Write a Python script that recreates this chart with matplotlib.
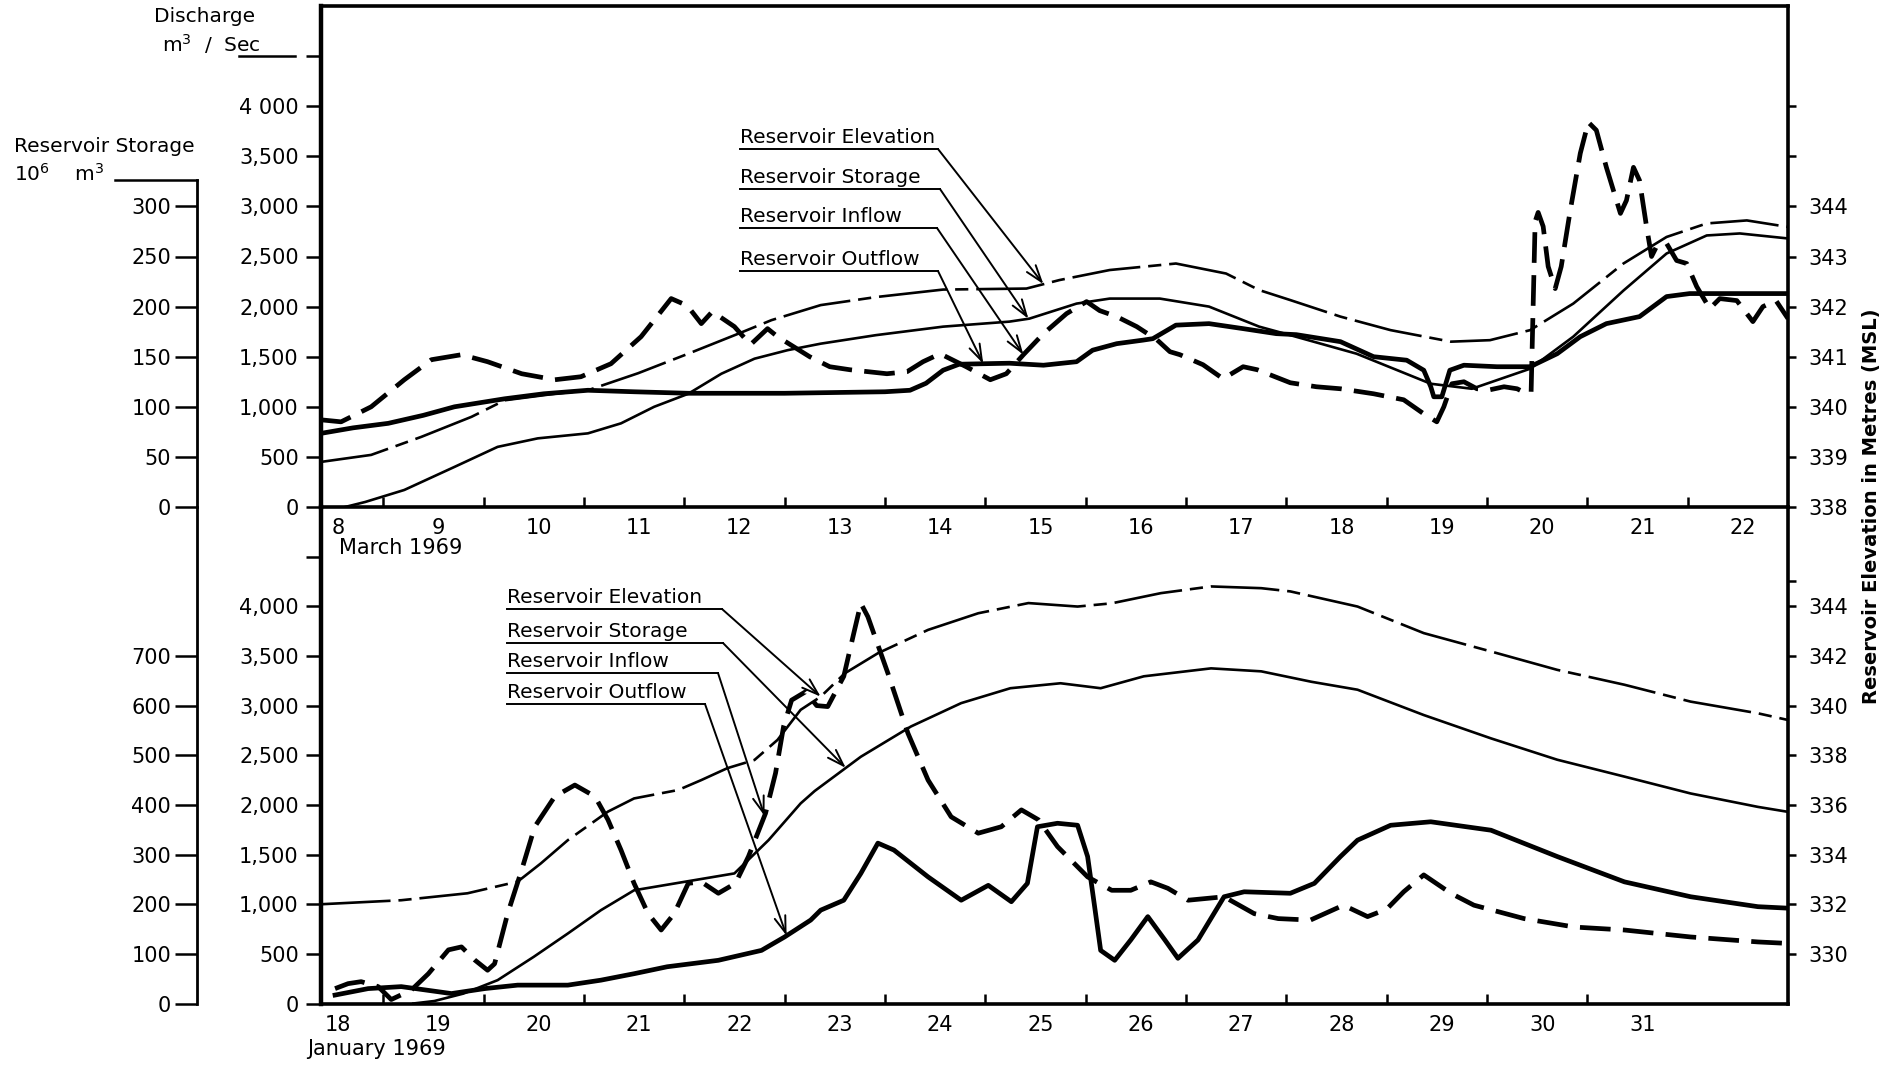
import numpy as np
import matplotlib.pyplot as plt
from matplotlib.lines import Line2D
from matplotlib.transforms import blended_transform_factory

plt.rcParams['font.family'] = ['DejaVu Sans']

W, H = 1900, 1066  # figure size in pixels

# ---------------- March 1969 (upper panel) ----------------
mar_in_day = [8.38, 8.58, 8.88, 9.21, 9.48, 9.78, 10.04, 10.38, 10.71, 10.97,
              11.27, 11.57, 11.87, 12.03, 12.17, 12.28, 12.50, 12.66, 12.83, 12.93,
              13.25, 13.45, 13.65, 14.02, 14.22, 14.38, 14.55, 14.81, 15.05, 15.21,
              15.38, 15.58, 15.81, 16.01, 16.14, 16.31, 16.51, 16.71, 16.84, 16.94,
              17.17, 17.37, 17.57, 17.71, 18.04, 18.30, 18.54, 18.87, 19.17, 19.37,
              19.50, 19.57, 19.65, 19.77, 19.90, 20.03, 20.17, 20.30, 20.40, 20.44,
              20.46, 20.48, 20.51, 20.56, 20.61, 20.68, 20.74, 20.83, 20.93, 21.01,
              21.09, 21.19, 21.33, 21.39, 21.46, 21.52, 21.59, 21.64, 21.69, 21.79,
              21.89, 21.99, 22.09, 22.22, 22.32, 22.49, 22.65, 22.75, 22.88, 23.00]
mar_inflow = [870, 850, 1000, 1270, 1470, 1520, 1450, 1330, 1270, 1300,
              1430, 1700, 2080, 2010, 1830, 1950, 1800, 1620, 1780, 1700,
              1500, 1400, 1370, 1330, 1350, 1450, 1530, 1400, 1270, 1330,
              1520, 1730, 1930, 2050, 1960, 1900, 1800, 1670, 1550, 1520,
              1420, 1280, 1400, 1370, 1240, 1200, 1180, 1130, 1070, 930,
              850, 1000, 1230, 1250, 1180, 1170, 1200, 1180, 1130, 1150,
              2000, 2850, 2940, 2800, 2400, 2180, 2400, 2960, 3530, 3840,
              3760, 3390, 2930, 3060, 3390, 3260, 2800, 2500, 2600, 2630,
              2460, 2430, 2200, 1980, 2080, 2060, 1850, 2000, 2060, 1880]

mar_out_day = [8.38, 8.70, 9.05, 9.40, 9.71, 10.21, 10.60, 11.04, 11.50, 12.04,
               13.00, 14.00, 14.25, 14.41, 14.58, 14.74, 15.24, 15.58, 15.91, 16.07,
               16.31, 16.57, 16.67, 16.90, 17.23, 17.57, 17.90, 18.10, 18.54, 18.87,
               19.20, 19.37, 19.44, 19.47, 19.55, 19.63, 19.77, 20.10, 20.43, 20.70,
               20.93, 21.19, 21.52, 21.79, 22.02, 23.00]
mar_outflow = [735, 790, 835, 915, 1000, 1080, 1130, 1165, 1150, 1135,
               1135, 1150, 1165, 1235, 1365, 1425, 1435, 1415, 1450, 1565,
               1630, 1665, 1680, 1815, 1830, 1780, 1730, 1720, 1650, 1500,
               1465, 1365, 1200, 1100, 1100, 1365, 1415, 1400, 1400, 1530,
               1700, 1830, 1900, 2100, 2130, 2130]

mar_stor_day = [8.62, 8.82, 9.21, 9.71, 10.14, 10.54, 11.04, 11.37, 11.70, 12.04,
                12.37, 12.70, 13.03, 13.36, 13.91, 14.58, 15.24, 15.44, 15.91, 16.24,
                16.74, 17.23, 17.73, 18.04, 18.70, 19.44, 19.85, 20.43, 20.86, 21.36,
                21.79, 22.19, 22.52, 23.00]
mar_storage = [0, 5, 17, 40, 60, 68.5, 73.5, 83.5, 100, 113,
               133, 148, 156.5, 163, 171.5, 180, 185, 188, 203, 208,
               208, 200, 180, 171.5, 153, 123, 118, 138, 170, 216,
               253, 271, 273, 268]

mar_elev_day = [8.38, 8.88, 9.38, 9.88, 10.21, 10.71, 11.04, 11.54, 12.04, 12.54,
                12.87, 13.36, 13.91, 14.58, 15.41, 15.74, 16.24, 16.90, 17.40, 17.73,
                18.04, 18.54, 19.04, 19.64, 20.03, 20.43, 20.86, 21.36, 21.79, 22.19,
                22.59, 23.00]
mar_elev = [338.90, 339.04, 339.40, 339.80, 340.13, 340.26, 340.33, 340.67, 341.06, 341.46,
            341.73, 342.03, 342.19, 342.34, 342.36, 342.53, 342.73, 342.86, 342.66, 342.33,
            342.13, 341.80, 341.53, 341.30, 341.33, 341.53, 342.06, 342.86, 343.39, 343.66,
            343.72, 343.59]

# ---------------- January 1969 (lower panel) ----------------
jan_in_day = [18.52, 18.65, 18.78, 18.95, 19.08, 19.28, 19.45, 19.65, 19.78, 19.91,
              20.04, 20.11, 20.24, 20.38, 20.51, 20.71, 20.91, 21.11, 21.24, 21.37,
              21.50, 21.64, 21.77, 21.90, 22.04, 22.17, 22.34, 22.51, 22.64, 22.81,
              22.91, 22.99, 23.07, 23.21, 23.32, 23.43, 23.59, 23.69, 23.76, 23.83,
              24.03, 24.23, 24.43, 24.66, 24.93, 25.16, 25.36, 25.53, 25.72, 26.02,
              26.26, 26.45, 26.65, 26.82, 27.02, 27.38, 27.68, 27.92, 28.24, 28.57,
              28.81, 29.00, 29.17, 29.37, 29.64, 29.87, 30.37, 30.87, 31.37, 32.03,
              32.70, 33.00]
jan_inflow = [150, 200, 220, 170, 40, 135, 300, 540, 570, 440,
              335, 400, 905, 1345, 1780, 2085, 2200, 2085, 1850, 1545,
              1210, 905, 740, 905, 1210, 1225, 1110, 1210, 1480, 1915,
              2320, 2790, 3055, 3140, 3000, 2990, 3295, 3730, 4030, 3895,
              3325, 2720, 2250, 1880, 1715, 1780, 1950, 1850, 1580, 1275,
              1140, 1140, 1225, 1160, 1040, 1075, 905, 855, 840, 990,
              875, 950, 1125, 1295, 1110, 990, 855, 770, 740, 670,
              620, 605]

jan_out_day = [18.52, 18.85, 19.18, 19.68, 20.01, 20.34, 20.84, 21.17, 21.50, 21.83,
               22.34, 22.77, 23.00, 23.26, 23.36, 23.59, 23.76, 23.93, 24.09, 24.43,
               24.76, 25.03, 25.26, 25.42, 25.52, 25.72, 25.92, 26.02, 26.09, 26.15,
               26.29, 26.45, 26.62, 26.79, 26.92, 27.12, 27.38, 27.58, 28.04, 28.28,
               28.54, 28.71, 29.04, 29.44, 30.04, 30.70, 31.37, 32.03, 32.70, 33.00]
jan_outflow = [85, 150, 170, 100, 150, 185, 185, 235, 300, 370,
               435, 535, 670, 840, 940, 1040, 1310, 1615, 1545, 1275,
               1040, 1190, 1025, 1210, 1780, 1815, 1795, 1480, 975, 535,
               435, 640, 875, 640, 455, 640, 1075, 1125, 1110, 1210,
               1480, 1645, 1795, 1830, 1745, 1480, 1225, 1075, 975, 960]

jan_stor_day = [19.30, 19.51, 19.80, 20.14, 20.50, 20.84, 21.17, 21.50, 22.00, 22.50,
                22.84, 23.16, 23.30, 23.76, 24.26, 24.76, 25.25, 25.75, 26.15, 26.58,
                27.25, 27.75, 28.25, 28.71, 29.37, 30.04, 30.70, 31.37, 32.03, 32.70,
                33.00]
jan_storage = [0, 5, 20, 47, 94, 141, 188, 228, 245, 262,
               329, 403, 428, 497, 558, 605, 635, 645, 635, 659,
               675, 669, 648, 632, 581, 534, 491, 457, 423, 396,
               386]

jan_elev_day = [18.39, 19.18, 19.84, 20.34, 20.57, 20.84, 21.24, 21.50, 21.94, 22.17,
                22.43, 22.70, 22.93, 23.16, 23.36, 23.60, 23.93, 24.43, 24.93, 25.43,
                25.92, 26.26, 26.75, 27.25, 27.75, 28.04, 28.71, 29.37, 30.04, 30.70,
                31.37, 32.03, 32.70, 33.00]
jan_elev = [332.00, 332.16, 332.44, 332.91, 333.64, 334.58, 335.73, 336.26, 336.60, 337.00,
            337.48, 337.81, 338.62, 339.83, 340.36, 341.30, 342.11, 343.05, 343.72, 344.13,
            343.99, 344.12, 344.53, 344.80, 344.73, 344.60, 343.99, 342.92, 342.18, 341.44,
            340.84, 340.16, 339.69, 339.42]

# axis tick labels
mar_days = list(range(8, 23))
jan_days = list(range(18, 32))
q_ticks = [0, 500, 1000, 1500, 2000, 2500, 3000, 3500, 4000, 4500]
mar_q_labels = ['0', '500', '1,000', '1,500', '2,000', '2,500', '3,000', '3,500', '4 000', '']
jan_q_labels = ['0', '500', '1,000', '1,500', '2,000', '2,500', '3,000', '3,500', '4,000', '']
mar_s_ticks = [0, 50, 100, 150, 200, 250, 300]
jan_s_ticks = [0, 100, 200, 300, 400, 500, 600, 700]
mar_e_ticks = [338, 339, 340, 341, 342, 343, 344, 345, 346]
mar_e_labels = ['338', '339', '340', '341', '342', '343', '344', '', '']
jan_e_ticks = [330, 332, 334, 336, 338, 340, 342, 344, 345]
jan_e_labels = ['330', '332', '334', '336', '338', '340', '342', '344', '']


def fx(x):
    return x / W


def fy(y):
    return 1 - y / H


def panel(ax, xlim, days, q_labels, s_lim, s_ticks, e_lim, e_ticks, e_labels, top):
    ax.set_xlim(*xlim)
    ax.set_ylim(0, 5000)
    ax.patch.set_visible(False)
    ax_s = ax.twinx()
    ax_e = ax.twinx()
    ax_s.set_ylim(*s_lim)
    ax_e.set_ylim(*e_lim)

    # main frame
    for side in ['left', 'bottom', 'top']:
        ax.spines[side].set_linewidth(2.6)
    ax.spines['left'].set_linewidth(3.2)
    ax.spines['right'].set_visible(False)
    ax.spines['top'].set_visible(top)

    # discharge axis
    ax.set_yticks(q_ticks, q_labels)
    ax.tick_params(axis='y', direction='out', length=11, width=1.8, pad=5, labelsize=15)

    # days: ticks on day boundaries, labels in between
    ax.set_xticks(days[1:], [''] * len(days[1:]))
    ax.set_xticks([d + 0.55 for d in days], [str(d) for d in days], minor=True)
    ax.tick_params(axis='x', which='major', direction='in', length=7, width=1.8)
    ax.tick_params(axis='x', which='minor', length=0, pad=8, labelsize=15)

    # storage axis, off to the left
    for side in ['right', 'top', 'bottom']:
        ax_s.spines[side].set_visible(False)
    ax_s.spines['left'].set_visible(True)
    ax_s.spines['left'].set_position(('axes', -0.0842))
    ax_s.spines['left'].set_linewidth(2.0)
    ax_s.yaxis.tick_left()
    ax_s.set_yticks(s_ticks, [str(t) for t in s_ticks])
    ax_s.tick_params(axis='y', direction='out', length=16, width=1.8, pad=3, labelsize=15)

    # elevation axis on the right
    for side in ['left', 'top', 'bottom']:
        ax_e.spines[side].set_visible(False)
    ax_e.spines['right'].set_linewidth(2.6)
    ax_e.set_yticks(e_ticks, e_labels)
    ax_e.tick_params(axis='y', direction='out', length=6, width=1.8, pad=9, labelsize=15)
    return ax_s, ax_e


def draw(ax, ax_s, ax_e, in_d, q_in, out_d, q_out, s_d, stor, e_d, elev):
    ax_e.plot(e_d, elev, color='black', lw=1.9, linestyle=(0, (26, 3, 5, 3)))
    ax_s.plot(s_d, stor, color='black', lw=1.9)
    ax.plot(in_d, q_in, color='black', lw=3.4, linestyle=(0, (6.5, 2.6)))
    ax.plot(out_d, q_out, color='black', lw=3.4)


def leader(target_ax, text, x0, x1, yl, day, days, values):
    fig.text(fx(x0), fy(yl - 6), text, fontsize=14.5, ha='left', va='baseline')
    fig.add_artist(Line2D([fx(x0), fx(x1)], [fy(yl), fy(yl)], transform=fig.transFigure,
                          color='black', lw=1.4))
    target_ax.annotate('', xy=(day, np.interp(day, days, values)), xycoords='data',
                       xytext=(fx(x1), fy(yl)), textcoords='figure fraction',
                       arrowprops=dict(arrowstyle='->,head_length=0.6,head_width=0.2',
                                       mutation_scale=20, lw=1.4, color='black',
                                       shrinkA=0, shrinkB=0))


fig = plt.figure(figsize=(W / 100, H / 100), dpi=100)
ax2 = fig.add_axes([fx(321), fy(1003.5), fx(1788) - fx(321), fy(507) - fy(1003.5)])
ax1 = fig.add_axes([fx(321), fy(507), fx(1788) - fx(321), fy(6) - fy(507)])

s1, e1 = panel(ax1, (8.38, 23.0), mar_days, mar_q_labels, (0, 500), mar_s_ticks,
               (338, 348), mar_e_ticks, mar_e_labels, True)
s2, e2 = panel(ax2, (18.38, 33.0), jan_days, jan_q_labels, (0, 1000), jan_s_ticks,
               (328, 348), jan_e_ticks, jan_e_labels, False)
s1.spines['left'].set_bounds(0, 326)

draw(ax1, s1, e1, mar_in_day, mar_inflow, mar_out_day, mar_outflow,
     mar_stor_day, mar_storage, mar_elev_day, mar_elev)
draw(ax2, s2, e2, jan_in_day, jan_inflow, jan_out_day, jan_outflow,
     jan_stor_day, jan_storage, jan_elev_day, jan_elev)

# axis headings
tr_s = blended_transform_factory(s1.transAxes, s1.transData)
s1.plot([-0.1404, -0.0842], [326, 326], transform=tr_s, color='black', lw=1.8, clip_on=False)
tr_q = blended_transform_factory(ax1.transAxes, ax1.transData)
ax1.plot([-0.056, -0.018], [4500, 4500], transform=tr_q, color='black', lw=1.8, clip_on=False)

fig.text(fx(205), fy(17), 'Discharge', fontsize=14.5, ha='center', va='center')
fig.text(fx(162), fy(52), 'm$^{3}$  /  Sec', fontsize=14.5, ha='left', va='baseline')
fig.text(fx(14), fy(147), 'Reservoir Storage', fontsize=14.5, ha='left', va='center')
fig.text(fx(14), fy(181), '10$^{6}$    m$^{3}$', fontsize=14.5, ha='left', va='baseline')
fig.text(fx(1872), fy(506), 'Reservoir Elevation in Metres (MSL)', fontsize=14,
         fontweight='bold', rotation=90, ha='center', va='center')
fig.text(fx(339), fy(548), 'March 1969', fontsize=15, ha='left', va='center')
fig.text(fx(307), fy(1049), 'January 1969', fontsize=15, ha='left', va='center')

# curve labels with leaders (upper panel)
leader(e1, 'Reservoir Elevation', 740, 938, 149, 15.58, mar_elev_day, mar_elev)
leader(s1, 'Reservoir Storage', 740, 940, 189, 15.43, mar_stor_day, mar_storage)
leader(ax1, 'Reservoir Inflow', 740, 937, 228, 15.38, mar_in_day, mar_inflow)
leader(ax1, 'Reservoir Outflow', 740, 938, 271, 14.98, mar_out_day, mar_outflow)

# curve labels with leaders (lower panel)
leader(e2, 'Reservoir Elevation', 507, 722, 609, 23.36, jan_elev_day, jan_elev)
leader(s2, 'Reservoir Storage', 507, 723, 643, 23.61, jan_stor_day, jan_storage)
leader(ax2, 'Reservoir Inflow', 507, 718, 673, 22.80, jan_in_day, jan_inflow)
leader(ax2, 'Reservoir Outflow', 507, 705, 704, 23.02, jan_out_day, jan_outflow)

fig.savefig('out.png', dpi=100)
